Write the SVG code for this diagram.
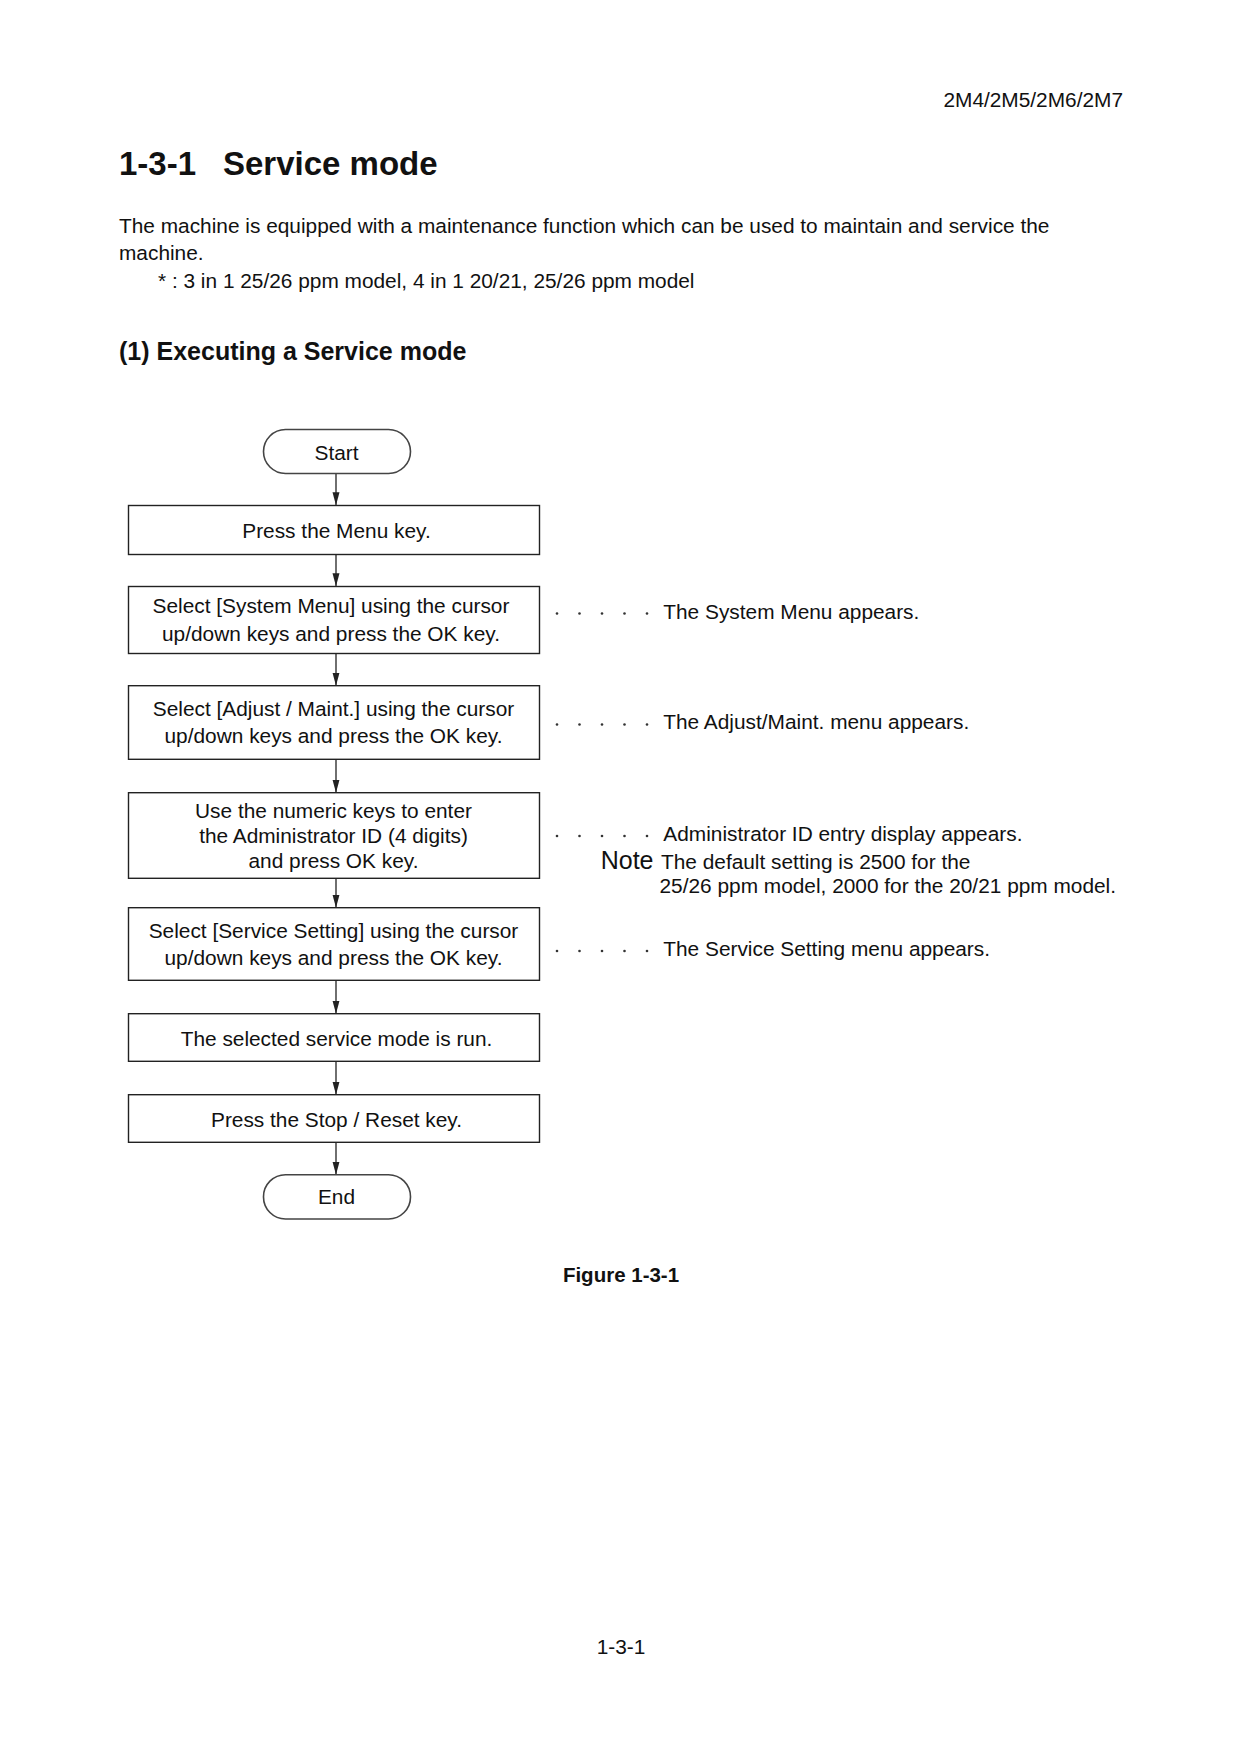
<svg xmlns="http://www.w3.org/2000/svg" width="1242" height="1752" viewBox="0 0 1242 1752">
<defs>
<style>
text{font-family:"Liberation Sans",Arial,Helvetica,sans-serif;fill:#111;}
.b{font-size:20.85px;}
.c{text-anchor:middle;}
.bold{font-weight:bold;}
.box{fill:#fff;stroke:#222;stroke-width:1.4;}
.term{fill:#fff;stroke:#444;stroke-width:1.6;}
.con{stroke:#222;stroke-width:1.3;fill:none;}
.dot{fill:#333;}
</style>
<marker id="arr" markerUnits="userSpaceOnUse" markerWidth="14" markerHeight="8" refX="13" refY="3.5" orient="auto" viewBox="0 0 14 7">
<path d="M0,0 L13,3.5 L0,7 Z" fill="#222"/>
</marker>
</defs>
<rect width="1242" height="1752" fill="#fff"/>

<g id="page-text">
<text class="b" x="1123" y="107" text-anchor="end">2M4/2M5/2M6/2M7</text>
<text class="bold" x="119" y="175" font-size="33">1-3-1</text>
<text class="bold" x="223" y="175" font-size="33">Service mode</text>
<text class="b" x="119" y="233">The machine is equipped with a maintenance function which can be used to maintain and service the</text>
<text class="b" x="119" y="260">machine.</text>
<text class="b" x="158" y="288">* : 3 in 1 25/26 ppm model, 4 in 1 20/21, 25/26 ppm model</text>
<text class="bold" x="119" y="360" font-size="25">(1) Executing a Service mode</text>
<text class="bold c" x="621" y="1282" font-size="20.5">Figure 1-3-1</text>
<text class="b c" x="621" y="1654">1-3-1</text>
</g>

<g id="connectors">
<line class="con" x1="336" y1="473.3" x2="336" y2="505.3" marker-end="url(#arr)"/>
<line class="con" x1="336" y1="554.3" x2="336" y2="586.3" marker-end="url(#arr)"/>
<line class="con" x1="336" y1="653.3" x2="336" y2="685.7" marker-end="url(#arr)"/>
<line class="con" x1="336" y1="759.3" x2="336" y2="792.7" marker-end="url(#arr)"/>
<line class="con" x1="336" y1="878.3" x2="336" y2="907.7" marker-end="url(#arr)"/>
<line class="con" x1="336" y1="980.3" x2="336" y2="1013.7" marker-end="url(#arr)"/>
<line class="con" x1="336" y1="1061.3" x2="336" y2="1094.7" marker-end="url(#arr)"/>
<line class="con" x1="336" y1="1142.3" x2="336" y2="1174.7" marker-end="url(#arr)"/>
</g>

<g id="start">
<rect class="term" x="263.5" y="429.5" width="147" height="44" rx="22" ry="22"/>
<text class="b c" x="336.5" y="460">Start</text>
</g>

<g id="step1">
<rect class="box" x="128.5" y="505.5" width="411" height="49"/>
<text class="b c" x="336.5" y="538.3">Press the Menu key.</text>
</g>

<g id="step2">
<rect class="box" x="128.5" y="586.5" width="411" height="67"/>
<text class="b c" x="331" y="613.3">Select [System Menu] using the cursor</text>
<text class="b c" x="331" y="640.7">up/down keys and press the OK key.</text>
</g>

<g id="step3">
<rect class="box" x="128.5" y="685.7" width="411" height="73.6"/>
<text class="b c" x="333.5" y="716">Select [Adjust / Maint.] using the cursor</text>
<text class="b c" x="333.5" y="742.7">up/down keys and press the OK key.</text>
</g>

<g id="step4">
<rect class="box" x="128.5" y="792.7" width="411" height="85.6"/>
<text class="b c" x="333.5" y="818.3">Use the numeric keys to enter</text>
<text class="b c" x="333.5" y="843.3">the Administrator ID (4 digits)</text>
<text class="b c" x="333.5" y="868.3">and press OK key.</text>
</g>

<g id="step5">
<rect class="box" x="128.5" y="907.7" width="411" height="72.6"/>
<text class="b c" x="333.5" y="938.3">Select [Service Setting] using the cursor</text>
<text class="b c" x="333.5" y="965">up/down keys and press the OK key.</text>
</g>

<g id="step6">
<rect class="box" x="128.5" y="1013.7" width="411" height="47.6"/>
<text class="b c" x="336.5" y="1045.7">The selected service mode is run.</text>
</g>

<g id="step7">
<rect class="box" x="128.5" y="1094.7" width="411" height="47.6"/>
<text class="b c" x="336.5" y="1126.7">Press the Stop / Reset key.</text>
</g>

<g id="end">
<rect class="term" x="263.5" y="1174.7" width="147" height="44.3" rx="22" ry="22"/>
<text class="b c" x="336.5" y="1204">End</text>
</g>

<g id="note1">
<circle class="dot" cx="557" cy="613.5" r="1.3"/><circle class="dot" cx="579.5" cy="613.5" r="1.3"/><circle class="dot" cx="602" cy="613.5" r="1.3"/><circle class="dot" cx="624.5" cy="613.5" r="1.3"/><circle class="dot" cx="647" cy="613.5" r="1.3"/>
<text class="b" x="663.3" y="619">The System Menu appears.</text>
</g>

<g id="note2">
<circle class="dot" cx="557" cy="724.5" r="1.3"/><circle class="dot" cx="579.5" cy="724.5" r="1.3"/><circle class="dot" cx="602" cy="724.5" r="1.3"/><circle class="dot" cx="624.5" cy="724.5" r="1.3"/><circle class="dot" cx="647" cy="724.5" r="1.3"/>
<text class="b" x="663.3" y="729">The Adjust/Maint. menu appears.</text>
</g>

<g id="note3">
<circle class="dot" cx="557" cy="836" r="1.3"/><circle class="dot" cx="579.5" cy="836" r="1.3"/><circle class="dot" cx="602" cy="836" r="1.3"/><circle class="dot" cx="624.5" cy="836" r="1.3"/><circle class="dot" cx="647" cy="836" r="1.3"/>
<text class="b" x="663.3" y="840.5">Administrator ID entry display appears.</text>
<text x="600.7" y="868.5" font-size="25">Note</text>
<text class="b" x="661" y="868.5">The default setting is 2500 for the</text>
<text class="b" x="659.5" y="892.5">25/26 ppm model, 2000 for the 20/21 ppm model.</text>
</g>

<g id="note4">
<circle class="dot" cx="557" cy="951" r="1.3"/><circle class="dot" cx="579.5" cy="951" r="1.3"/><circle class="dot" cx="602" cy="951" r="1.3"/><circle class="dot" cx="624.5" cy="951" r="1.3"/><circle class="dot" cx="647" cy="951" r="1.3"/>
<text class="b" x="663.3" y="955.5">The Service Setting menu appears.</text>
</g>
</svg>
